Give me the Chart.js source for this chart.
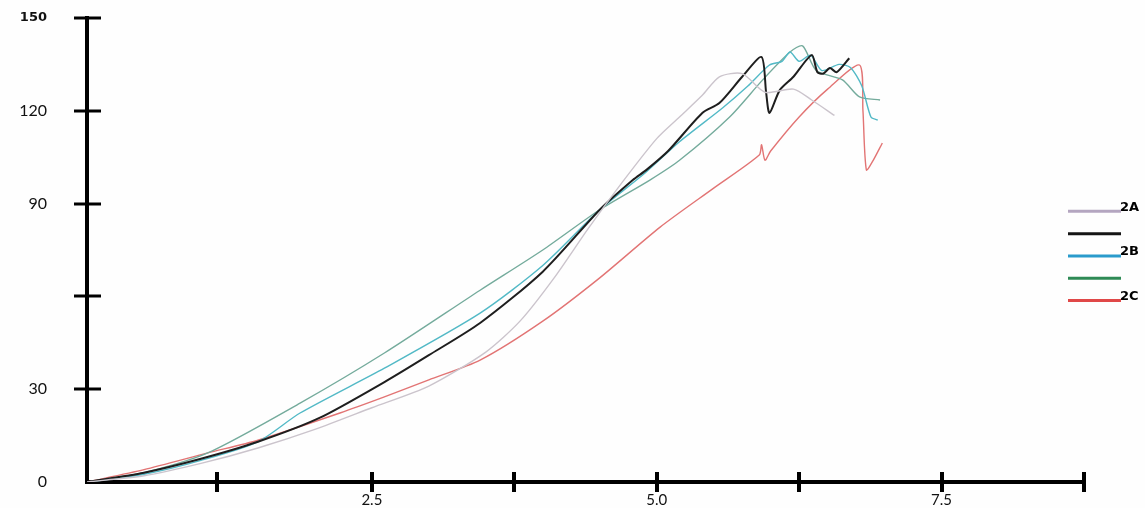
<!DOCTYPE html>
<html>
<head>
<meta charset="utf-8">
<script src="https://cdn.jsdelivr.net/npm/chart.js@4/dist/chart.umd.min.js"></script>
<style>
html,body{margin:0;padding:0;background:#fefefe;}
#wrap{width:1145px;height:508px;position:relative;}
</style>
</head>
<body>
<div id="wrap"><canvas id="c" width="1145" height="508"></canvas></div>
<script>
// ---- data ----
const seriesNames = ['2A', '', '2B', '', '2C'];
const s2A_x = [0, 0.5, 1.0, 1.5, 2.0, 2.5, 3.0, 3.5, 3.8, 4.1, 4.4, 4.7, 5.0, 5.2, 5.4, 5.55, 5.75, 5.95, 6.2, 6.36, 6.56];
const s2A_y = [0, 2, 6, 11, 17, 24, 31, 42, 52, 66, 82, 97, 111, 118, 125, 131, 132, 126, 127, 123.5, 118.5];
const sK_x = [0, 0.5, 1.0, 1.5, 2.04, 2.61, 3.0, 3.45, 4.0, 4.5, 4.79, 4.91, 5.1, 5.4, 5.55, 5.75, 5.92, 5.96, 5.99, 6.08, 6.2, 6.36, 6.41, 6.46, 6.52, 6.58, 6.69];
const sK_y = [0, 3, 7.5, 13, 20.7, 32.3, 41, 51.4, 68, 88, 97.6, 100.9, 107, 119.3, 122.5, 131, 137.4, 126, 119.3, 126.7, 131, 138, 132.5, 132, 133.8, 132.5, 137];
const s2B_x = [0, 0.5, 1.0, 1.5, 1.87, 2.61, 3.45, 4.0, 4.5, 4.9, 5.2, 5.58, 5.8, 5.99, 6.1, 6.17, 6.25, 6.35, 6.45, 6.6, 6.7, 6.8, 6.88, 6.94];
const s2B_y = [0, 2.5, 7, 13, 22.3, 36.8, 54.6, 70, 88, 100, 110, 121, 128, 134.8, 136, 139, 136, 138, 133, 135, 134, 128, 118, 117];
const sG_x = [0, 0.5, 1.06, 1.87, 2.61, 3.45, 4.0, 4.5, 4.94, 5.2, 5.64, 5.93, 6.17, 6.28, 6.4, 6.63, 6.78, 6.96];
const sG_y = [0, 3, 9.4, 25.5, 41.7, 62, 75, 88, 97.6, 104, 118, 130, 139, 141, 133, 130, 124.5, 123.5];
const s2C_x = [0, 0.5, 1.06, 1.5, 2.22, 2.61, 3.0, 3.45, 4.0, 4.5, 5.03, 5.5, 5.9, 5.92, 5.95, 6.0, 6.25, 6.5, 6.78, 6.81, 6.84, 6.9, 6.98];
const s2C_y = [0, 4, 9.4, 13.5, 22.3, 27.5, 33, 39.4, 52, 66, 82.4, 95, 105.7, 109, 104, 107, 118, 127, 134.8, 120, 100.9, 104, 109.6];
const xTickValues = [0, 1.14, 2.5, 3.75, 5.0, 6.25, 7.5, 8.75];
const xTickLabels = ['', '', '2.5', '', '5.0', '', '7.5', ''];
const yTickValues = [0, 30, 60, 90, 120, 150];
const yTickLabels = ['0', '30', '', '90', '120', '150'];

// ---- styles ----
const lineColors = ['#cbc4cc', '#1e1e1e', '#52b9c6', '#74ab9c', '#e27474'];
const legendColors = ['#b4a6c0', '#151515', '#2a9bcc', '#2e8a55', '#e04848'];
const lineWidths = [1.4, 2, 1.4, 1.4, 1.4];

function pts(xs, ys){ return xs.map((x,i)=>({x:x, y:ys[i]})); }
const allX = [s2A_x, sK_x, s2B_x, sG_x, s2C_x];
const allY = [s2A_y, sK_y, s2B_y, sG_y, s2C_y];

const datasets = allX.map((xs,i)=>({
  label: seriesNames[i] || ('s'+i),
  data: pts(xs, allY[i]),
  borderColor: lineColors[i],
  borderWidth: lineWidths[i],
  pointRadius: 0,
  tension: 0.25,
  fill: false
}));

const tickPlugin = {
  id: 'crossTicks',
  afterDraw(chart){
    const ctx = chart.ctx;
    const xs = chart.scales.x, ys = chart.scales.y;
    const a = chart.chartArea;
    ctx.save();
    ctx.strokeStyle = '#000';
    ctx.lineCap = 'butt';
    ctx.lineWidth = 3;
    yTickValues.forEach(v=>{
      if(v===0) return;
      const py = Math.round(ys.getPixelForValue(v));
      ctx.beginPath(); ctx.moveTo(a.left-13, py); ctx.lineTo(a.left+14, py); ctx.stroke();
    });
    ctx.lineWidth = 4;
    xTickValues.forEach(v=>{
      if(v===0) return;
      const px = Math.round(xs.getPixelForValue(v));
      ctx.beginPath(); ctx.moveTo(px, a.bottom-10); ctx.lineTo(px, a.bottom+10); ctx.stroke();
    });
    // legend
    const ly0 = ys.getPixelForValue(87.5);
    const step = 22.3;
    ctx.lineWidth = 3;
    ctx.font = 'bold 13px "DejaVu Sans"';
    ctx.textBaseline = 'middle';
    ctx.textAlign = 'left';
    seriesNames.forEach((n,i)=>{
      const y = ly0 + i*step;
      ctx.strokeStyle = legendColors[i];
      ctx.beginPath(); ctx.moveTo(1068, y); ctx.lineTo(1121, y); ctx.stroke();
      if(n){ ctx.fillStyle = '#000'; ctx.fillText(n, 1120, y-4); }
    });
    ctx.restore();
  }
};

new Chart(document.getElementById('c'), {
  type: 'line',
  data: { datasets },
  options: {
    responsive: false,
    animation: false,
    layout: { padding: { top: 18, right: 61, bottom: 0, left: 0 } },
    plugins: { legend: { display: false }, tooltip: { enabled: false } },
    scales: {
      x: {
        type: 'linear', min: 0, max: 8.75,
        afterBuildTicks: s => { s.ticks = xTickValues.map(v=>({value:v})); },
        afterFit: s => { s.height = 26; s.paddingLeft = 0; s.paddingRight = 0; },
        grid: { display: false, drawTicks: false },
        border: { display: true, color: '#000', width: 4 },
        ticks: {
          autoSkip: false, maxRotation: 0, minRotation: 0, padding: 9,
          color: '#111', font: { family: 'Lato', size: 15 },
          callback: (v, i) => xTickLabels[i]
        }
      },
      y: {
        type: 'linear', min: 0, max: 150,
        afterBuildTicks: s => { s.ticks = yTickValues.map(v=>({value:v})); },
        afterFit: s => { s.width = 87; s.paddingTop = 0; s.paddingBottom = 0; },
        grid: { display: false, drawTicks: false },
        border: { display: true, color: '#000', width: 4 },
        ticks: {
          autoSkip: false, padding: 40,
          color: '#111',
          font: ctx => (ctx.tick && ctx.tick.value === 150)
            ? { family: '"DejaVu Sans"', size: 13, weight: 'bold' }
            : { family: 'Lato', size: 16 },
          callback: (v, i) => yTickLabels[i]
        }
      }
    }
  },
  plugins: [tickPlugin]
});
</script>
</body>
</html>
